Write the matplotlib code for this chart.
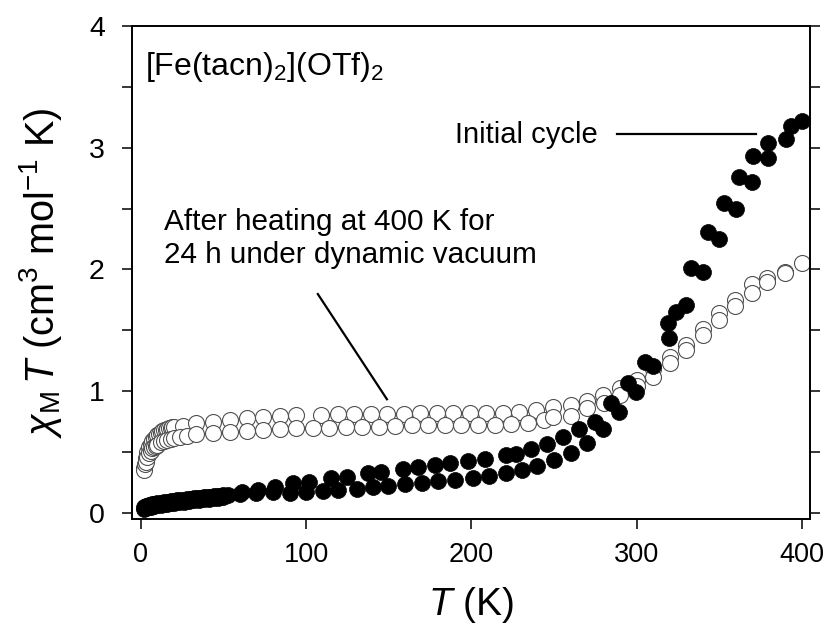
import matplotlib
matplotlib.use("Agg")
import matplotlib.pyplot as plt
from matplotlib.ticker import MultipleLocator

plt.rcParams["font.family"] = ["Liberation Sans", "DejaVu Sans"]
plt.rcParams["mathtext.fontset"] = "custom"
plt.rcParams["mathtext.rm"] = "Liberation Sans"
plt.rcParams["mathtext.it"] = "Liberation Sans:italic"

# Initial cycle, two interleaved branches (filled circles)
T_init_a = [2, 3, 4, 5, 6, 7, 8, 9, 10, 12, 14, 16, 18, 20, 22, 24, 26, 28, 30,
            32, 34, 36, 38, 40, 42, 44, 46, 48, 50, 53, 61, 71, 81, 92, 102,
            115, 124.5, 137.6, 145.6, 158.7, 167.8, 177.9, 187, 198, 208.2,
            220.9, 227, 235.8, 245.9, 255.6, 265, 274.7, 284.2, 295, 305, 319,
            330, 332.8, 342.9, 353, 362, 370.5, 379.6, 393.3]
chiT_init_a = [0.05, 0.055, 0.06, 0.064, 0.068, 0.071, 0.074, 0.077, 0.08, 0.085,
               0.089, 0.093, 0.097, 0.10, 0.104, 0.107, 0.11, 0.113, 0.116,
               0.119, 0.122, 0.125, 0.128, 0.131, 0.134, 0.137, 0.14, 0.143,
               0.146, 0.15, 0.17, 0.186, 0.21, 0.244, 0.257, 0.285, 0.298,
               0.326, 0.339, 0.36, 0.375, 0.394, 0.408, 0.427, 0.441, 0.476,
               0.485, 0.523, 0.564, 0.622, 0.69, 0.75, 0.906, 1.07, 1.243,
               1.558, 1.708, 2.01, 2.31, 2.544, 2.757, 2.932, 3.042, 3.179]

T_init_b = [2, 3, 4, 5, 6, 7, 8, 10, 12, 14, 16, 18, 20, 23, 26, 29, 32, 35, 38,
            41, 44, 47, 50, 60, 70, 80, 90, 100, 110, 119, 130.5, 140.6, 149.6,
            159.8, 169.9, 180, 190, 201, 210.7, 220.9, 230.9, 239.8, 249.9, 260,
            270, 279.8, 289.5, 299.6, 309.6, 319.7, 324, 340.3, 350, 360, 370,
            379.6, 390.3, 399.8]
chiT_init_b = [0.035, 0.04, 0.045, 0.05, 0.053, 0.056, 0.059, 0.063, 0.067,
               0.071, 0.075, 0.079, 0.083, 0.088, 0.093, 0.098, 0.103, 0.108,
               0.112, 0.117, 0.121, 0.125, 0.13, 0.155, 0.16, 0.17, 0.16, 0.175,
               0.178, 0.19, 0.20, 0.216, 0.22, 0.234, 0.247, 0.263, 0.271, 0.29,
               0.304, 0.326, 0.353, 0.386, 0.435, 0.49, 0.577, 0.69, 0.827,
               0.996, 1.207, 1.435, 1.653, 1.982, 2.248, 2.497, 2.716, 2.913,
               3.069, 3.222]

# After heating at 400 K, two branches (open circles)
T_heat_a = [2, 3, 4, 5, 6, 7, 8, 9, 10, 11, 12, 13, 14, 15, 16, 17, 18, 19, 20,
            25.6, 33.6, 43.8, 54, 64, 74, 84, 94, 109, 119, 129, 139, 149, 159,
            169, 179, 189, 199, 209, 219, 229, 239, 249.6, 260, 269.7, 279.8,
            289.9, 300, 310, 320, 330, 340, 350, 359.5, 369.6, 379, 389.7, 399.8]
chiT_heat_a = [0.37, 0.45, 0.50, 0.54, 0.57, 0.59, 0.61, 0.625, 0.64, 0.65,
               0.66, 0.67, 0.68, 0.685, 0.69, 0.695, 0.70, 0.705, 0.71, 0.715,
               0.737, 0.75, 0.764, 0.778, 0.786, 0.797, 0.805, 0.805, 0.81,
               0.81, 0.81, 0.815, 0.815, 0.82, 0.82, 0.82, 0.82, 0.825, 0.825,
               0.83, 0.845, 0.868, 0.887, 0.922, 0.969, 1.024, 1.092, 1.18,
               1.284, 1.38, 1.509, 1.645, 1.75, 1.88, 1.928, 1.982, 2.056]

T_heat_b = [2, 2.5, 3, 4, 5, 6, 7, 8, 9, 10, 12, 14, 16, 18, 20, 23.6, 28, 33.7,
            43.8, 54, 64, 74, 84, 94, 104, 114, 124, 134, 144, 154, 164, 174,
            184, 194, 204, 214, 224, 234, 244, 249.6, 260, 270, 280, 290, 300,
            310, 320, 330, 340, 350, 359.5, 369.6, 379, 389.7]
chiT_heat_b = [0.353, 0.40, 0.42, 0.46, 0.49, 0.51, 0.53, 0.54, 0.55, 0.56,
               0.58, 0.59, 0.60, 0.61, 0.615, 0.625, 0.635, 0.645, 0.658, 0.668,
               0.677, 0.684, 0.69, 0.695, 0.70, 0.70, 0.705, 0.705, 0.71, 0.715,
               0.72, 0.72, 0.72, 0.72, 0.723, 0.725, 0.73, 0.74, 0.76, 0.786,
               0.80, 0.86, 0.90, 0.969, 1.04, 1.12, 1.23, 1.34, 1.46, 1.585,
               1.70, 1.805, 1.90, 1.97]

title_text = r"[Fe(tacn)$_2$](OTf)$_2$"
label_initial = "Initial cycle"
label_heated = "After heating at 400 K for\n24 h under dynamic vacuum"
x_ticks = [0, 100, 200, 300, 400]
y_ticks = [0, 1, 2, 3, 4]

fig = plt.figure(figsize=(8.24, 6.33), dpi=100)
ax = fig.add_axes([0.160, 0.180, 0.823, 0.779])

ms = 11.5
ax.plot(T_heat_a, chiT_heat_a, ls="none", marker="o", ms=ms, mfc="white",
        mec="#505050", mew=0.8, zorder=2)
ax.plot(T_heat_b, chiT_heat_b, ls="none", marker="o", ms=ms, mfc="white",
        mec="#505050", mew=0.8, zorder=2)
ax.plot(T_init_a, chiT_init_a, ls="none", marker="o", ms=ms, mfc="black",
        mec="black", mew=0.5, zorder=3)
ax.plot(T_init_b, chiT_init_b, ls="none", marker="o", ms=ms, mfc="black",
        mec="black", mew=0.5, zorder=3)

ax.set_xlim(-5.4, 404.8)
ax.set_ylim(-0.05, 4.0)
ax.set_xticks(x_ticks)
ax.set_yticks(y_ticks)
ax.yaxis.set_minor_locator(MultipleLocator(0.5))

for s in ax.spines.values():
    s.set_linewidth(1.4)

ax.tick_params(axis="x", which="both", direction="out", length=7.5, width=1.1,
               labelsize=19.5, pad=9, top=False)
ax.tick_params(axis="y", which="both", direction="out", length=7.5, width=1.1,
               labelsize=20.5, pad=12, left=True, right=True)

ax.set_xlabel(r"$\mathit{T}$ (K)", fontsize=28, labelpad=12)
ax.set_ylabel(r"$\mathit{χ}_\mathrm{M}\,\mathit{T}$ (cm$^3$ mol$^{-1}$ K)",
              fontsize=28.5, labelpad=18)

ax.text(2.4, 3.598, title_text, fontsize=23, ha="left", va="baseline")

ax.text(276.6, 3.105, label_initial, fontsize=21, ha="right", va="center")
ax.plot([287.8, 372.2], [3.113, 3.113], color="black", lw=1.6)

ax.text(13.9, 2.255, label_heated, fontsize=21.4, ha="left", va="center",
        linespacing=1.2)
ax.plot([107.1, 148.9], [1.798, 0.934], color="black", lw=1.6)

fig.savefig("out.png", dpi=100)
